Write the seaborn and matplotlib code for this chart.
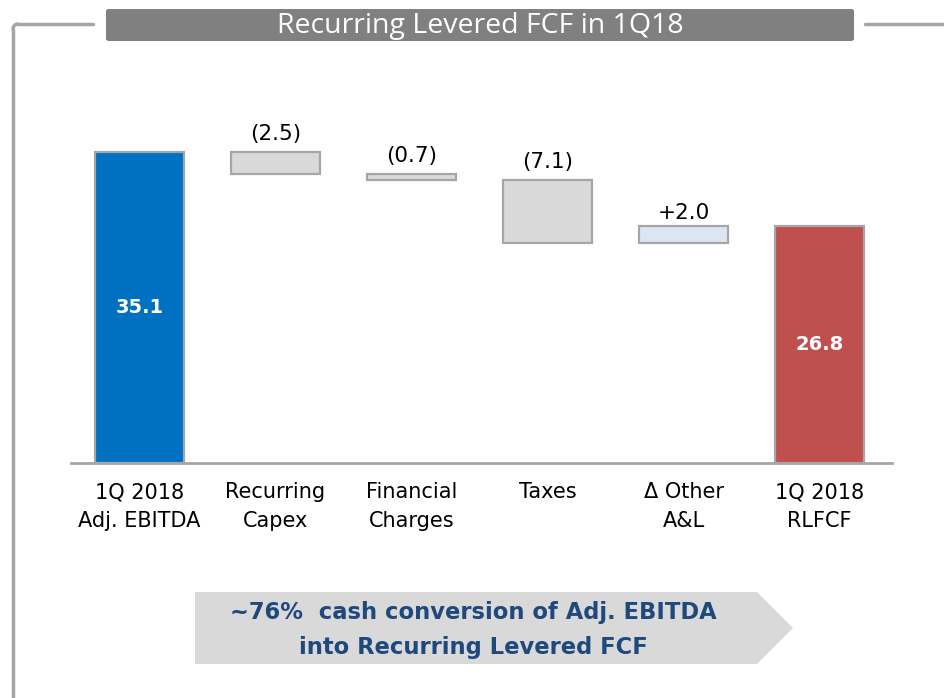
import numpy as np
import pandas as pd
import matplotlib
matplotlib.use("Agg")
import matplotlib.pyplot as plt
import seaborn as sns
from matplotlib.patches import FancyBboxPatch, Polygon
from matplotlib.lines import Line2D

# ---- data ----
categories = ["1Q 2018\nAdj. EBITDA", "Recurring\nCapex", "Financial\nCharges",
              "Taxes", "\u0394 Other\nA&L", "1Q 2018\nRLFCF"]
values = [35.1, -2.5, -0.7, -7.1, 2.0, 26.8]
kinds = ["total", "delta", "delta", "delta", "delta", "total"]
value_labels = ["35.1", "(2.5)", "(0.7)", "(7.1)", "+2.0", "26.8"]
title = "Recurring Levered FCF in 1Q18"
note = "~76%  cash conversion of Adj. EBITDA\ninto Recurring Levered FCF"

# ---- waterfall geometry from data ----
bottoms, heights = [], []
running = 0.0
for v, k in zip(values, kinds):
    if k == "total":
        bottoms.append(0.0)
        heights.append(v)
        running = v
    else:
        start, end = running, running + v
        bottoms.append(min(start, end))
        heights.append(abs(v))
        running = end

df = pd.DataFrame({"category": categories, "height": heights})

face_colors = ["#0070C0", "#D9D9D9", "#D9D9D9", "#D9D9D9", "#DCE6F2", "#C0504D"]
edge_color = "#A6A6A6"

W, H = 945, 698
fig = plt.figure(figsize=(W / 100, H / 100), dpi=100)
sns.set_style("white")
plt.rcParams["font.family"] = ["DejaVu Sans"]

def fx(px):
    return px / W

def fy(py):
    return 1 - py / H

# axes placement (pixels): left 71, right 892, baseline 463, top 100
ax = fig.add_axes([fx(71), fy(463), fx(892) - fx(71), fy(100) - fy(463)])
sns.barplot(data=df, x="category", y="height", bottom=bottoms, order=categories,
            width=0.655, ax=ax, color="#D9D9D9", edgecolor=edge_color, linewidth=1.6)
for p, c in zip(ax.patches, face_colors):
    p.set_facecolor(c)

ax.set_xlim(-0.504, 5.533)
ax.set_ylim(0, 40.97)
ax.set_xlabel("")
ax.set_ylabel("")
ax.set_yticks([])
for s in ["top", "right", "left"]:
    ax.spines[s].set_visible(False)
ax.spines["bottom"].set_color("#A6A6A6")
ax.spines["bottom"].set_linewidth(2)
ax.tick_params(axis="x", length=0, pad=14, labelsize=15, labelcolor="#000000")
for t in ax.get_xticklabels():
    t.set_linespacing(1.55)

# value labels
for i, (b, h, lab, k) in enumerate(zip(bottoms, heights, value_labels, kinds)):
    if k == "total":
        ax.text(i, b + h / 2, lab, ha="center", va="center", color="white",
                fontsize=14, fontweight="bold")
    else:
        off = 0.9 if values[i] < 0 else 0.3
        ax.text(i, b + h + off, lab, ha="center", va="bottom", color="black", fontsize=15.5)

# ---- decorations ----
lc = "#A6A6A6"
# left frame with rounded corner
fig.add_artist(Line2D([fx(18), fx(93)], [fy(24), fy(24)], color=lc, lw=2.5))
fig.add_artist(Line2D([fx(13), fx(13)], [fy(29), fy(698)], color=lc, lw=2.5))
ang = np.linspace(np.pi / 2, np.pi, 20)
fig.add_artist(Line2D(fx(18 + 5 * np.cos(ang)), fy(29 - 5 * np.sin(ang)), color=lc, lw=2.5))
# right frame line
fig.add_artist(Line2D([fx(865), fx(945)], [fy(24), fy(24)], color=lc, lw=2.5))

# title box
tb = FancyBboxPatch((fx(106), fy(41)), fx(854) - fx(106), fy(9) - fy(41),
                    boxstyle="round,pad=0,rounding_size=0.003",
                    transform=fig.transFigure, facecolor="#808080", edgecolor="none")
fig.add_artist(tb)
fig.text(fx(480), fy(26.5), title, ha="center", va="center", color="white",
         fontsize=20.5, family=["Open Sans", "DejaVu Sans"])

# bottom chevron
pts = [(195, 592), (757, 592), (793, 628), (757, 664), (195, 664)]
poly = Polygon([(fx(a), fy(b)) for a, b in pts], closed=True, transform=fig.transFigure,
               facecolor="#D9D9D9", edgecolor="none")
fig.add_artist(poly)
fig.text(fx(473), fy(630), note, ha="center", va="center", color="#1F497D",
         fontsize=16.3, fontweight="bold", linespacing=1.65)

fig.savefig("out.png", dpi=100)
